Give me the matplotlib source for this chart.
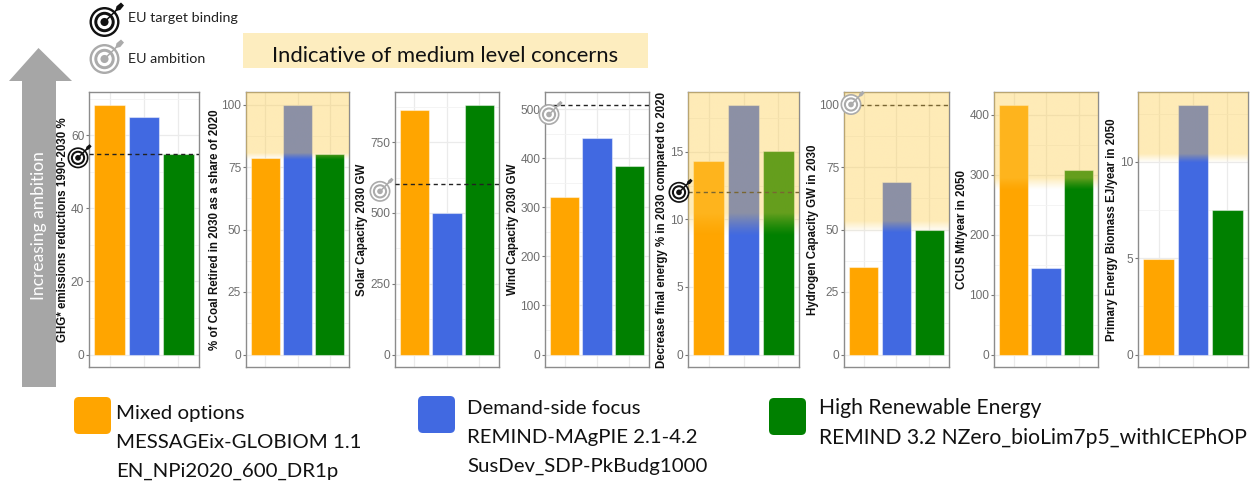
import numpy as np
import matplotlib
matplotlib.use("Agg")
import matplotlib.pyplot as plt
from matplotlib.patches import Circle, Polygon, Rectangle, FancyBboxPatch

plt.rcParams['font.family'] = ['Liberation Sans', 'DejaVu Sans']

# panel data, one entry per panel
y_labels = ["GHG* emissions reductions 1990-2030 %",
            "% of Coal Retired in 2030 as a share of 2020",
            "Solar Capacity 2030 GW",
            "Wind Capacity 2030 GW",
            "Decrease final energy % in 2030 compared to 2020",
            "Hydrogen Capacity GW in 2030",
            "CCUS Mt/year in 2050",
            "Primary Energy Biomass EJ/year in 2050"]
mixed_options = [68.4, 78.7, 863, 322, 14.3, 35, 417, 4.97]
demand_side = [65, 100, 499, 442, 18.5, 69, 145, 12.97]
high_renewable = [54.9, 80.2, 883, 385, 15.08, 50, 308, 7.48]
y_ticks = [[0, 20, 40, 60],
           [0, 25, 50, 75, 100],
           [0, 250, 500, 750],
           [0, 100, 200, 300, 400, 500],
           [0, 5, 10, 15],
           [0, 25, 50, 75, 100],
           [0, 100, 200, 300, 400],
           [0, 5, 10]]
targets = [54.9, None, 601, 510, 12, 100, None, None]
target_kind = ["binding", None, "ambition", "ambition", "binding", "ambition", None, None]
concern_full = [None, 80.5, None, None, 10.5, 53.4, 295, 10.4]
concern_none = [None, 77.7, None, None, 8.8, 48.6, 275, 9.93]

legend_titles = ["Mixed options", "Demand-side focus", "High Renewable Energy"]
legend_models = ["MESSAGEix-GLOBIOM 1.1", "REMIND-MAgPIE 2.1-4.2",
                 "REMIND 3.2 NZero_bioLim7p5_withICEPhOP"]
legend_scenarios = ["EN_NPi2020_600_DR1p", "SusDev_SDP-PkBudg1000", ""]

colors = ["#FFA500", "#4169E1", "#008000"]
W, H = 1257, 482
panel_left = [89, 246, 395, 545, 688, 844, 994, 1138]
panel_right = [199, 349, 499, 649, 799, 949, 1098, 1248]
panel_top, panel_bottom = 92, 367
label_x = [63, 215, 362, 513, 662, 813, 962, 1112]
icon_offset = [(-11, 4), None, (-15, 7), (4, 10), (-9, 0), (7, 0), None, None]

fig = plt.figure(figsize=(W / 100, H / 100), dpi=100)

# overlay in pixel coordinates for arrow, legend and icons
over = fig.add_axes([0, 0, 1, 1], zorder=5)
over.set_xlim(0, W)
over.set_ylim(H, 0)
over.axis("off")


def target_icon(x, y, r, col):
    for frac, fc in [(1.0, col), (0.84, "white"), (0.68, col), (0.48, "white"), (0.27, col)]:
        over.add_patch(Circle((x, y), r * frac, fc=fc, ec="none"))
    over.plot([x, x + r * 0.95], [y, y - r * 0.95], color=col, lw=1.1, solid_capstyle="round")
    over.add_patch(Polygon([[x + r * 0.72, y - r * 0.72], [x + r * 0.8, y - r * 1.05],
                            [x + r * 1.1, y - r * 1.3], [x + r * 1.3, y - r * 1.1],
                            [x + r * 1.05, y - r * 0.8]], fc=col, ec="none"))


for i in range(8):
    ax = fig.add_axes([panel_left[i] / W, 1 - panel_bottom / H,
                       (panel_right[i] - panel_left[i]) / W, (panel_bottom - panel_top) / H])
    vals = [mixed_options[i], demand_side[i], high_renewable[i]]
    top = max(vals + ([targets[i]] if targets[i] else []))
    ax.bar([1, 2, 3], vals, width=0.9, color=colors, edgecolor=(1, 1, 1, 0.45), linewidth=0.8, zorder=2)
    ax.set_xlim(0.4, 3.6)
    ax.set_ylim(-0.05 * top, 1.05 * top)
    ax.set_xticks([1, 2, 3])
    ax.set_xticklabels([])
    ax.set_yticks(y_ticks[i])
    step = y_ticks[i][1] - y_ticks[i][0]
    ax.set_yticks([t + step / 2 for t in y_ticks[i] if t + step / 2 < 1.05 * top], minor=True)
    ax.grid(True, which="major", color="#EBEBEB", lw=0.9, zorder=0)
    ax.grid(True, which="minor", axis="y", color="#F3F3F3", lw=0.6, zorder=0)
    ax.set_axisbelow(True)
    ax.tick_params(axis="x", length=0)
    ax.tick_params(axis="y", which="major", length=2.5, width=0.8, color="#777777",
                   labelcolor="#6E6E6E", labelsize=8.6, pad=1)
    ax.tick_params(axis="y", which="minor", length=0)
    for s in ax.spines.values():
        s.set_color("#8C8C8C")
        s.set_linewidth(1.0)
    ax.set_ylabel(y_labels[i], fontweight="bold", fontsize=8.3, color="#111111", va="center")
    ax.yaxis.set_label_coords((label_x[i] - panel_left[i]) / (panel_right[i] - panel_left[i]), 0.5)

    if targets[i] is not None:
        ax.axhline(targets[i], color="#222222", lw=1.0, ls=(0, (3, 2.5)), zorder=3)

    if concern_full[i] is not None:
        # yellow band fading out at its lower edge
        ramp = np.clip((np.linspace(1.05 * top, concern_none[i], 300) - concern_none[i])
                       / (concern_full[i] - concern_none[i]), 0, 1) ** 1.2
        img = np.zeros((300, 1, 4))
        img[..., 0] = 254 / 255
        img[..., 1] = 205 / 255
        img[..., 2] = 75 / 255
        img[:, 0, 3] = 0.4 * ramp
        ax.imshow(img, extent=[0.4, 3.6, concern_none[i], 1.05 * top], aspect="auto",
                  interpolation="bilinear", zorder=4)
        ax.set_xlim(0.4, 3.6)
        ax.set_ylim(-0.05 * top, 1.05 * top)

    if target_kind[i] is not None:
        frac = (targets[i] + 0.05 * top) / (1.10 * top)
        py = panel_bottom - frac * (panel_bottom - panel_top)
        dx, dy = icon_offset[i]
        col = "#111111" if target_kind[i] == "binding" else "#ABABAB"
        target_icon(panel_left[i] + dx, py + dy, 10.5, col)

# increasing ambition arrow
over.add_patch(Polygon([[38.5, 48], [72, 81], [56, 81], [56, 387], [22, 387], [22, 81], [9, 81]],
                       fc="#A6A6A6", ec="none"))
over.text(39, 226, "Increasing ambition", rotation=90, color="white", ha="center", va="center",
          fontsize=12.5, family="Lato")

# target key and concern banner
target_icon(104.5, 22, 15, "#111111")
target_icon(104.5, 59, 15, "#ABABAB")
over.text(128, 18, "EU target binding", fontsize=10.3, family="Lato", va="center", color="#222222")
over.text(128, 59, "EU ambition", fontsize=10.3, family="Lato", va="center", color="#222222")
over.add_patch(Rectangle((243, 33), 405, 35, fc="#FDEDBF", ec="none"))
over.text(445.5, 56, "Indicative of medium level concerns", fontsize=15.8, family="Lato",
          ha="center", va="center", color="#111111")

# scenario legend
swatch_x = [74, 418, 769]
swatch_y = [397, 396, 398]
text_x = [116, 467, 819]
first_y = [413, 408.5, 408.5]
legend_size = [14.7, 14.7, 15.2]
for c, sx, sy, tx, ty, a, b, d, fs in zip(colors, swatch_x, swatch_y, text_x, first_y,
                                          legend_titles, legend_models, legend_scenarios, legend_size):
    over.add_patch(FancyBboxPatch((sx + 4, sy + 4), 29, 29, boxstyle="round,pad=4,rounding_size=5",
                                  fc=c, ec="none"))
    for k, line in enumerate([a, b, d]):
        over.text(tx, ty + 29 * k, line, fontsize=fs, family="Lato", va="center", color="#111111")

fig.savefig("out.png", dpi=100)
